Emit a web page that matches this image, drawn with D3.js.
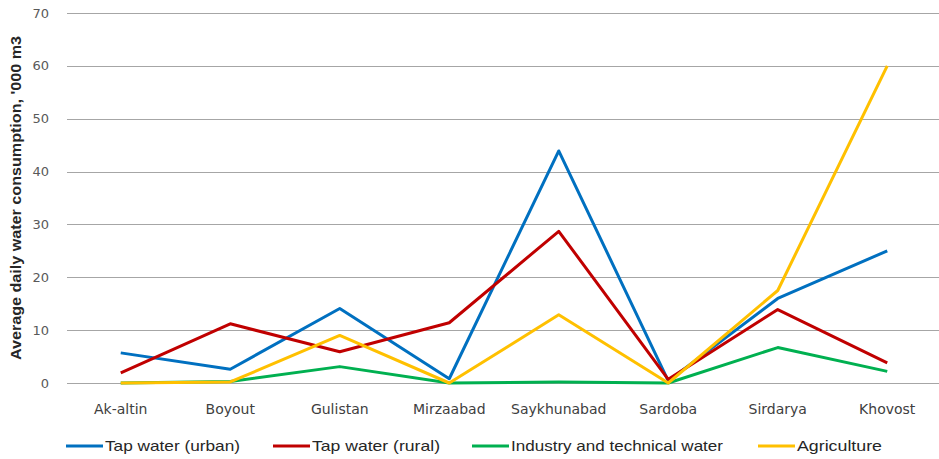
<!DOCTYPE html>
<html><head><meta charset="utf-8">
<script src="https://cdn.jsdelivr.net/npm/d3@7"></script>
<style>body{margin:0;background:#fff;} svg{display:block;}</style>
</head><body>
<svg id="chart" width="939" height="459"></svg>
<script>
const categories = ["Ak-altin","Boyout","Gulistan","Mirzaabad","Saykhunabad","Sardoba","Sirdarya","Khovost"];
const seriesNames = ["Tap water (urban)","Tap water (rural)","Industry and technical water","Agriculture"];
const urban = [5.7, 2.6, 14.1, 0.8, 43.9, 0.4, 16.0, 25.0];
const rural = [1.9, 11.2, 5.9, 11.4, 28.7, 0.7, 13.9, 3.8];
const industry = [0, 0.3, 3.1, 0, 0.2, 0, 6.7, 2.2];
const agriculture = [0, 0.2, 9.0, 0, 12.9, 0, 17.5, 60.0];
const yTicks = [0,10,20,30,40,50,60,70];
const colors = ["#0070C0","#C00000","#00B050","#FFC000"];
const yTitle = "Average daily water consumption, '000 m3";

const svg = d3.select("#chart");
const plotL = 66, plotR = 942, plotT = 13, plotB = 383;
const x = d3.scalePoint().domain(categories).range([plotL, plotR]).padding(0.5);
const y = d3.scaleLinear().domain([0,70]).range([plotB, plotT]);

// gridlines
svg.append("g").selectAll("line").data(yTicks).join("line")
  .attr("x1", 67).attr("x2", 939)
  .attr("y1", d => Math.round(y(d)) + 0.5).attr("y2", d => Math.round(y(d)) + 0.5)
  .attr("stroke", "#a6a6a6").attr("stroke-width", 1);

// y tick labels
svg.append("g").selectAll("text").data(yTicks).join("text")
  .attr("x", 49).attr("y", d => y(d)).attr("dy", "0.35em")
  .attr("text-anchor", "end")
  .attr("font-family", "DejaVu Sans, Verdana, sans-serif").attr("font-size", 13)
  .attr("fill", "#595959").text(d => d);

// category labels
svg.append("g").selectAll("text").data(categories).join("text")
  .attr("x", d => x(d)).attr("y", 409).attr("dy", "0.35em")
  .attr("text-anchor", "middle")
  .attr("font-family", "DejaVu Sans, Verdana, sans-serif").attr("font-size", 14)
  .attr("fill", "#404040").text(d => d);

// y title
svg.append("text")
  .attr("transform", "translate(21,198) rotate(-90)")
  .attr("text-anchor", "middle")
  .attr("font-family", "Liberation Sans Narrow, Liberation Sans, Arial, sans-serif")
  .attr("font-weight", "bold").attr("font-size", 15)
  .attr("textLength", 324).attr("lengthAdjust", "spacingAndGlyphs")
  .attr("fill", "#262626").text(yTitle);

// lines
const data = [urban, rural, industry, agriculture];
const line = d3.line().x((d,i) => x(categories[i])).y(d => y(d));
svg.append("g").selectAll("path").data(data).join("path")
  .attr("d", d => line(d))
  .attr("fill", "none")
  .attr("stroke", (d,i) => colors[i])
  .attr("stroke-width", 3)
  .attr("stroke-linejoin", "round");

// legend
const legX = [66, 273, 472, 758];
const legW = [135, 128, 212, 85];
const lg = svg.append("g").selectAll("g").data(seriesNames).join("g");
lg.append("line")
  .attr("x1", (d,i) => legX[i]).attr("x2", (d,i) => legX[i] + 37)
  .attr("y1", 446).attr("y2", 446)
  .attr("stroke", (d,i) => colors[i]).attr("stroke-width", 3);
lg.append("text")
  .attr("x", (d,i) => legX[i] + 39).attr("y", 446).attr("dy", "0.35em")
  .attr("font-family", "Liberation Sans Narrow, Liberation Sans, Arial, sans-serif")
  .attr("font-size", 15)
  .attr("textLength", (d,i) => legW[i]).attr("lengthAdjust", "spacingAndGlyphs")
  .attr("fill", "#262626").text(d => d);
</script>
</body></html>
